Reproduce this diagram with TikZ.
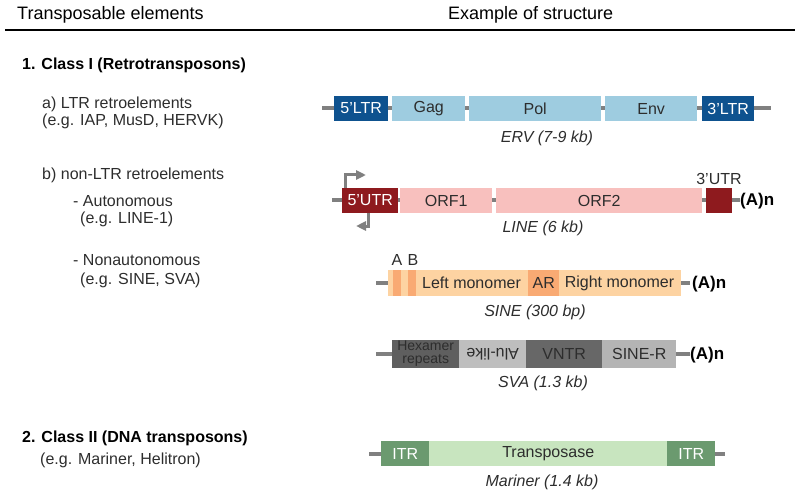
\documentclass[tikz,border=0pt]{standalone}
\usepackage{fontspec}
\setmainfont{Liberation Sans}
\usetikzlibrary{arrows.meta}
\definecolor{linegray}{RGB}{128,128,128}
\definecolor{txtdark}{RGB}{45,45,45}
\definecolor{ltrblue}{RGB}{14,82,143}
\definecolor{lightblue}{RGB}{158,204,224}
\definecolor{darkred}{RGB}{142,26,30}
\definecolor{pinkorf}{RGB}{248,192,190}
\definecolor{sinelight}{RGB}{253,211,162}
\definecolor{sinedark}{RGB}{249,170,115}
\definecolor{hexgray}{RGB}{95,95,95}
\definecolor{alugray}{RGB}{190,190,190}
\definecolor{vntrgray}{RGB}{103,103,103}
\definecolor{sinergray}{RGB}{180,180,180}
\definecolor{itrgreen}{RGB}{107,154,111}
\definecolor{transgreen}{RGB}{200,229,191}
\tikzset{
  backbone/.style={draw=linegray, line width=4pt},
  seg/.style={inner sep=0pt, minimum height=25pt, anchor=west, text=txtdark,
    font=\fontsize{16}{17}\selectfont},
  segtext/.style={inner sep=0pt, text=txtdark, font=\fontsize{16}{17}\selectfont},
  lbl/.style={anchor=base west, inner sep=0pt, text=txtdark, font=\fontsize{16}{17}\selectfont},
  boldlbl/.style={anchor=base west, inner sep=0pt, text=black, font=\fontsize{16}{17}\selectfont\bfseries},
  hdr/.style={anchor=base west, inner sep=0pt, text=black, font=\fontsize{18}{19}\selectfont},
  caption/.style={inner sep=0pt, text=txtdark, font=\fontsize{16}{17}\selectfont\itshape},
  polyA/.style={inner sep=0pt, anchor=west, text=black, font=\fontsize{17}{17}\selectfont\bfseries},
  prom/.style={draw=linegray, line width=3pt, -{Triangle[length=10pt,width=9pt]}},
}
\begin{document}
\begin{tikzpicture}[x=1pt,y=-1pt]
\useasboundingbox (0,0) rectangle (800,497);

% header
\node[hdr] (h1) at (17,20) {Transposable elements};
\node[hdr] (h2) at (448,20) {Example of structure};
\coordinate (rl) at (5,30);
\coordinate (rr) at (795,30);
\draw[line width=1.3pt] (rl) -- (rr);

% left column
\node[boldlbl] (c1) at (22,70) {1. Class I (Retrotransposons)};
\node[lbl] (a1) at (42,109) {a) LTR retroelements};
\node[lbl] (a2) at (42,126) {(e.g. IAP, MusD, HERVK)};
\node[lbl] (b1) at (42,179) {b) non-LTR retroelements};
\node[lbl] (b2) at (73,207) {- Autonomous};
\node[lbl] (b3) at (80,223) {(e.g. LINE-1)};
\node[lbl] (b4) at (73,265) {- Nonautonomous};
\node[lbl] (b5) at (80,284) {(e.g. SINE, SVA)};
\node[boldlbl] (c2) at (22,442) {2. Class II (DNA transposons)};
\node[lbl] (c3) at (40,464) {(e.g. Mariner, Helitron)};

% ERV
\coordinate (erv-l) at (322,108.5);
\coordinate (erv-r) at (771,108.5);
\draw[backbone] (erv-l) -- (erv-r);
\node[seg, fill=ltrblue, text=white, minimum width=54pt] (ltr5) at (334,108.5) {5’LTR};
\node[seg, fill=lightblue, minimum width=73pt] (gag) at (392,108.5) {Gag};
\node[seg, fill=lightblue, minimum width=132pt] (pol) at (469,108.5) {Pol};
\node[seg, fill=lightblue, minimum width=92pt] (env) at (605,108.5) {Env};
\node[seg, fill=ltrblue, text=white, minimum width=52pt] (ltr3) at (702,108.5) {3’LTR};
\node[caption] (erv) at (547,138) {ERV (7-9 kb)};

% LINE
\coordinate (line-l) at (332,200.5);
\coordinate (line-r) at (740,200.5);
\draw[backbone] (line-l) -- (line-r);
\node[seg, fill=darkred, text=white, minimum width=56pt] (utr5) at (342,200.5) {5’UTR};
\node[seg, fill=pinkorf, minimum width=92pt] (orf1) at (400,200.5) {ORF1};
\node[seg, fill=pinkorf, minimum width=206pt] (orf2) at (496,200.5) {ORF2};
\node[seg, fill=darkred, minimum width=26pt] (utr3) at (706,200.5) {};
\node[segtext] (utr3l) at (719,179) {3’UTR};
\node[polyA] (pa1) at (740,201) {(A)n};
\node[caption] (linec) at (543,228) {LINE (6 kb)};
\coordinate (tss1) at (366,175);
\coordinate (tss2) at (356,226);
\draw[prom] ([xshift=3pt]utr5.north west) |- (tss1);
\draw[prom] ([xshift=-30pt]utr5.south east) |- (tss2);

% SINE
\coordinate (sine-l) at (376,283);
\coordinate (sine-r) at (690,283);
\draw[backbone] (sine-l) -- (sine-r);
\node[seg, fill=sinelight, minimum width=293pt, minimum height=26pt] (sine) at (388,283) {};
\node[seg, fill=sinedark, minimum width=8pt, minimum height=26pt] (boxA) at (393,283) {};
\node[seg, fill=sinedark, minimum width=8pt, minimum height=26pt] (boxB) at (408,283) {};
\node[seg, fill=sinedark, minimum width=31pt, minimum height=26pt] (ar) at (528,283) {AR};
\node[segtext] (lm) at (471.5,283) {Left monomer};
\node[segtext] (rm) at (619.5,283) {Right monomer};
\node[segtext] (la) at (397,259.5) {A};
\node[segtext] (lb) at (413,259.5) {B};
\node[polyA] (pa2) at (692,284) {(A)n};
\node[caption] (sinec) at (535,312) {SINE (300 bp)};

% SVA
\coordinate (sva-l) at (376,354);
\coordinate (sva-r) at (690,354);
\draw[backbone] (sva-l) -- (sva-r);
\node[seg, fill=hexgray, minimum width=67pt, minimum height=28pt, align=center,
  font=\fontsize{14}{13}\selectfont] (hex) at (392,354) {Hexamer\\repeats};
\node[seg, fill=alugray, minimum width=67pt, minimum height=28pt] (alu) at (459,354) {\rotatebox[origin=c]{180}{Alu-like}};
\node[seg, fill=vntrgray, minimum width=76pt, minimum height=28pt] (vntr) at (526,354) {VNTR};
\node[seg, fill=sinergray, minimum width=74pt, minimum height=28pt] (siner) at (602,354) {SINE-R};
\node[polyA] (pa3) at (690,355) {(A)n};
\node[caption] (svac) at (543,383) {SVA (1.3 kb)};

% Mariner
\coordinate (mar-l) at (369,453.5);
\coordinate (mar-r) at (725,453.5);
\draw[backbone] (mar-l) -- (mar-r);
\node[seg, fill=itrgreen, text=white, minimum width=48pt] (itr1) at (381,453.5) {ITR};
\node[seg, fill=transgreen, minimum width=238pt] (tp) at (429,453.5) {Transposase};
\node[seg, fill=itrgreen, text=white, minimum width=48pt] (itr2) at (667,453.5) {ITR};
\node[caption] (marc) at (542,482) {Mariner (1.4 kb)};
\end{tikzpicture}
\end{document}
